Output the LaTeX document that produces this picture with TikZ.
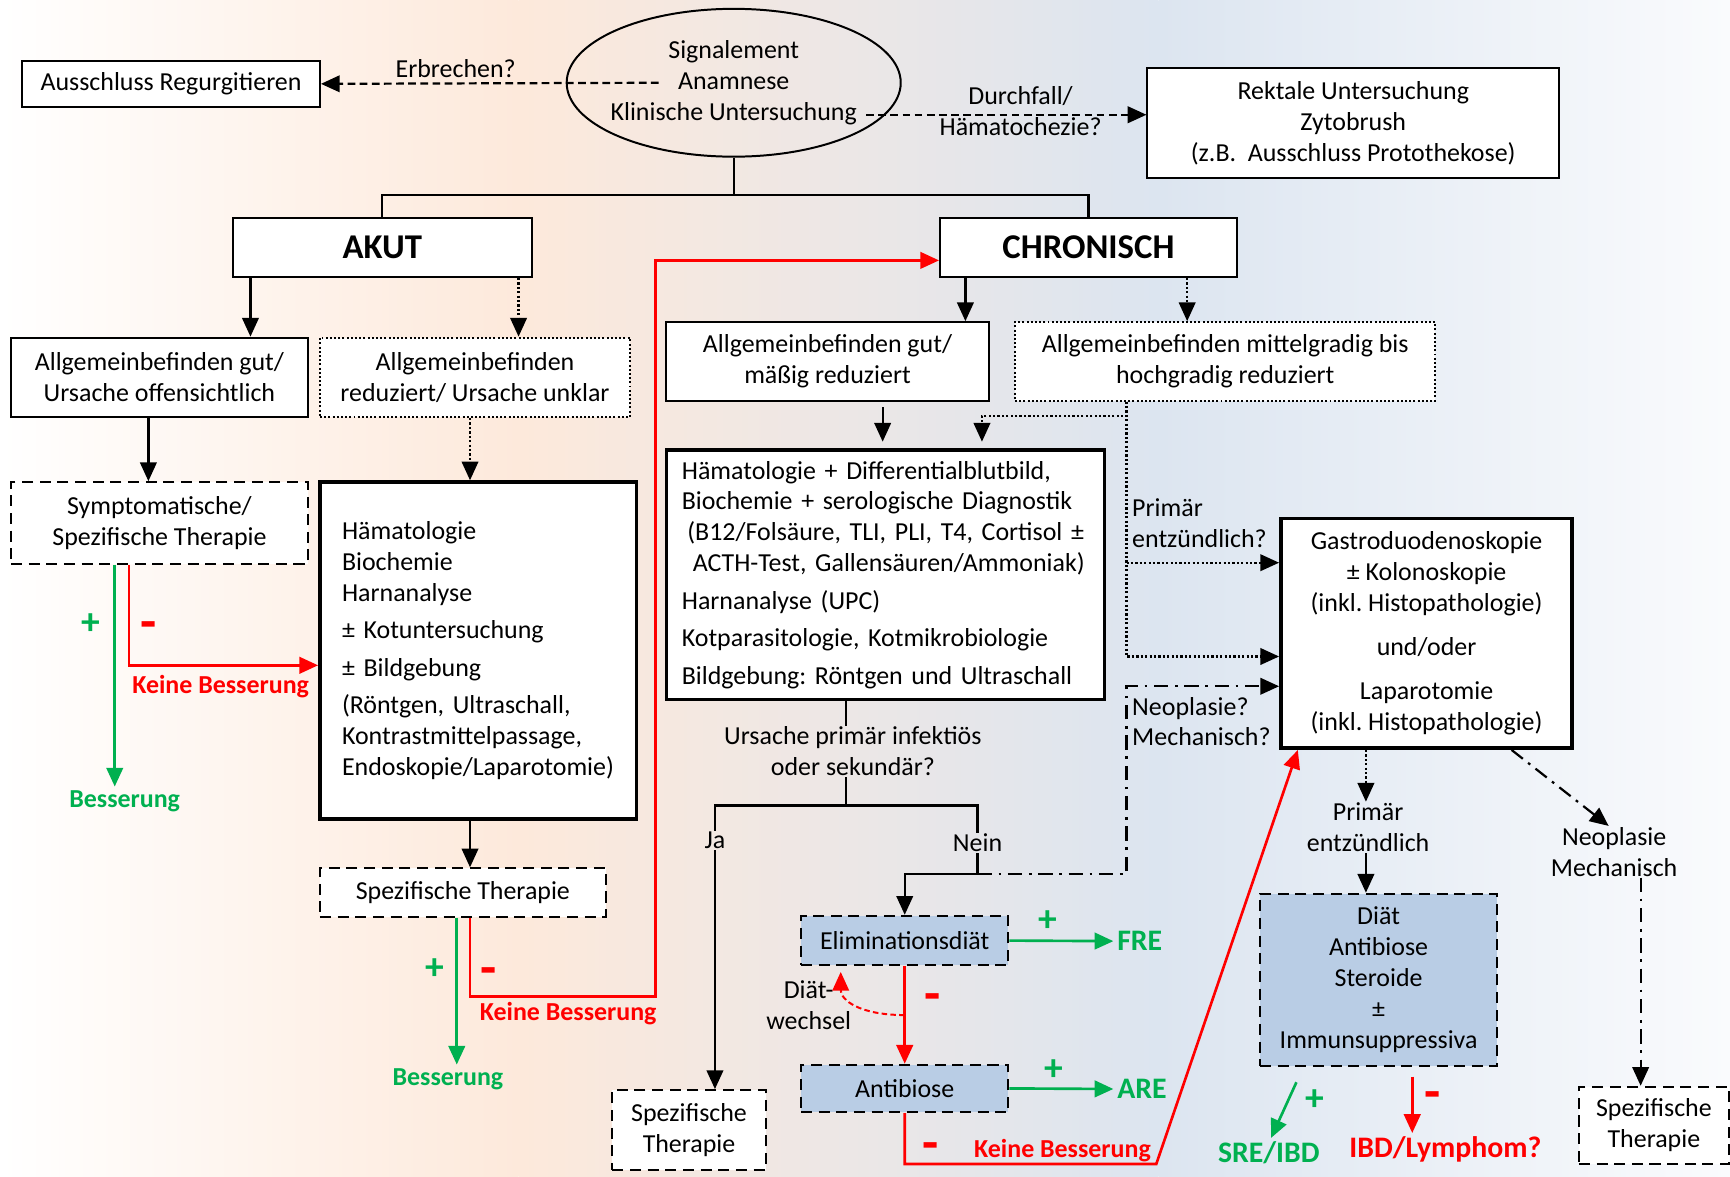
\documentclass[tikz,border=0pt]{standalone}
\usepackage{fontspec}
\setmainfont{Carlito}
\usepackage{tikz}
\usetikzlibrary{arrows.meta,positioning,shapes.geometric,calc}
\definecolor{ink}{HTML}{000000}
\definecolor{okgreen}{HTML}{00B050}
\definecolor{badred}{HTML}{FF0000}
\definecolor{blufill}{HTML}{B9CDE5}
\definecolor{peachbg}{HTML}{FDE9DB}
\definecolor{bluebg}{HTML}{DCE5F0}
\definecolor{palebg}{HTML}{FAFBFD}
\frenchspacing
\newcommand{\flowfont}{\fontsize{23.5}{28}\selectfont}
\newcommand{\headfont}{\fontsize{31.5}{34}\selectfont\bfseries}
\newcommand{\notefont}{\fontsize{23.5}{26}\selectfont\bfseries}
\newcommand{\outfont}{\fontsize{27}{30}\selectfont\bfseries}
\newcommand{\signfont}{\fontsize{34}{34}\selectfont\bfseries}
\newcommand{\barfont}{\fontsize{48}{48}\selectfont\bfseries}
\tikzset{
  flowbox/.style={draw=ink,fill=white,line width=1.8pt,
                  align=center,inner sep=0pt,font=\flowfont},
  thickbox/.style={flowbox,line width=3.4pt},
  dotbox/.style={flowbox,line width=1.8pt,dash pattern=on 1.8pt off 2pt},
  dashbox/.style={flowbox,dash pattern=on 10pt off 6pt},
  tintbox/.style={dashbox,fill=blufill},
  oval/.style={ellipse,draw=ink,line width=1.8pt,align=center,
               inner sep=0pt,inner xsep=-4.5pt,font=\flowfont},
  lbl/.style={font=\flowfont,align=center,inner sep=1pt},
  link/.style={draw=ink,line width=2pt},
  flowarr/.style={-{Triangle[length=17pt,width=15pt]},line width=2pt,draw=ink},
  dotarr/.style={flowarr,dash pattern=on 2pt off 2pt},
  dasharr/.style={flowarr,dash pattern=on 7pt off 4pt},
  dotdasharr/.style={flowarr,dash pattern=on 13pt off 6pt on 2.5pt off 6pt},
  goodarr/.style={flowarr,draw=okgreen,line width=2.4pt},
  badarr/.style={flowarr,draw=badred,line width=2.4pt},
  sign/.style={font=\signfont,inner sep=0pt},
  minusbar/.style={font=\barfont,inner sep=0pt,anchor=north}
}
\begin{document}
\begin{tikzpicture}[x=1pt,y=-1pt]
  % background wash
  \useasboundingbox (0,0) rectangle (1568,1066);
  \shade[left color=white,right color=peachbg] (0,0) rectangle (470,1066);
  \shade[left color=peachbg,right color=bluebg] (470,0) rectangle (1050,1066);
  \shade[left color=bluebg,right color=palebg] (1050,0) rectangle (1568,1066);

  % top row
  \node[oval,minimum width=294,minimum height=134] (sig) at (665,75)
    {Signalement\\Anamnese\\Klinische Untersuchung};
  \node[flowbox,minimum width=270,minimum height=42] (aus) at (155,76) {Ausschluss Regurgitieren};
  \node[flowbox,minimum width=373,minimum height=99] (rekt) at (1226.5,111.5)
    {Rektale Untersuchung\\Zytobrush\\(z.B.\ \ Ausschluss Protothekose)};
  \node[lbl] (erb) at (413,62) {Erbrechen?};
  \node[lbl] (durch) at (925,101) {Durchfall/\\Hämatochezie?};
  \draw[dasharr] ([xshift=-68]sig.center) -- (aus.east);
  \coordinate (dstart) at ([xshift=120,yshift=-29]sig.center);
  \draw[dasharr] (dstart) -- (dstart -| rekt.west);

  \node[flowbox,minimum width=271,minimum height=53,font=\headfont] (akut) at (346.5,224.5) {AKUT};
  \node[flowbox,minimum width=269,minimum height=53,font=\headfont] (chron) at (986.5,224.5) {CHRONISCH};
  \coordinate (split) at ([yshift=-34]sig.south);
  \draw[link] (sig.south) -- (split);
  \draw[link] (split) -| (akut.north);
  \draw[link] (split) -| (chron.north);

  % acute branch
  \node[flowbox,minimum width=269,minimum height=72] (a1) at (144.5,342)
    {Allgemeinbefinden gut/\\Ursache offensichtlich};
  \node[dotbox,minimum width=281,minimum height=72] (a2) at (430.5,342)
    {Allgemeinbefinden\\reduziert/ Ursache unklar};
  \node[dashbox,minimum width=269,minimum height=74] (sym) at (144.5,474)
    {Symptomatische/\\Spezifische Therapie};
  \node[thickbox,minimum height=305,text width=247,inner xsep=20,align=left] (haem) at (433.5,589.5)
    {Hämatologie\\Biochemie\\Harnanalyse\\[6pt]± Kotuntersuchung\\[6pt]± Bildgebung\\[6pt]%
     (Röntgen, Ultraschall,\\Kontrastmittelpassage,\\Endoskopie/Laparotomie)};
  \node[dashbox,minimum width=259,minimum height=44] (spz1) at (419.5,809) {Spezifische Therapie};
  \node[font=\notefont,text=okgreen] (bes1) at (113,726) {Besserung};
  \node[font=\notefont,text=badred] (kb1) at (200,622) {Keine Besserung};
  \node[font=\notefont,text=okgreen] (bes2) at (406,978) {Besserung};
  \node[font=\notefont,text=badred] (kb2) at (515,919) {Keine Besserung};

  \draw[flowarr] ([xshift=-119.5]akut.south) -- ([xshift=-119.5]akut.south |- a1.north);
  \draw[dotarr] ([xshift=123.5]akut.south) -- ([xshift=123.5]akut.south |- a2.north);
  \draw[flowarr] ([xshift=-10]a1.south) -- ([xshift=-10]sym.north);
  \draw[dotarr] ([xshift=-4.5]a2.south) -- ([xshift=-7.5]haem.north);
  \draw[goodarr] ([xshift=-40.5]sym.south) -- ([xshift=-40.5]sym.south |- bes1.north);
  \draw[badarr] ([xshift=-27.5]sym.south) |- ([yshift=-13.5]haem.west);
  \draw[flowarr] ([xshift=-7.5]haem.south) -- ([xshift=6.5]spz1.north);
  \draw[goodarr] ([xshift=-5.5]spz1.south) -- ([xshift=-5.5]spz1.south |- bes2.north);
  \coordinate (upturn) at (594,903);
  \draw[badarr] ([xshift=6.5]spz1.south) |- (upturn) |- ([yshift=-11.5]chron.west);

  % chronic branch
  \node[flowbox,minimum width=292,minimum height=71] (c1) at (750,327.5)
    {Allgemeinbefinden gut/\\mäßig reduziert};
  \node[dotbox,minimum width=381,minimum height=71] (c2) at (1110.5,327.5)
    {Allgemeinbefinden mittelgradig bis\\hochgradig reduziert};
  \node[thickbox,minimum height=226,text width=369,inner xsep=14,align=left] (lab) at (802.5,521)
    {Hämatologie + Differentialblutbild,\\Biochemie + serologische Diagnostik\\%
     \hspace*{5pt}(B12/Folsäure, TLI, PLI, T4, Cortisol ±\\%
     \hspace*{10pt}ACTH-Test, Gallensäuren/Ammoniak)\\[6pt]Harnanalyse (UPC)\\[6pt]%
     Kotparasitologie, Kotmikrobiologie\\[6pt]Bildgebung: Röntgen und Ultraschall};
  \node[lbl] (cause) at (773,681) {Ursache primär infektiös\\oder sekundär?};
  \node[lbl] (ja) at (648,762) {Ja};
  \node[lbl] (nein) at (886,764) {Nein};
  \node[dashbox,minimum width=139,minimum height=72] (spz2) at (624.5,1024) {Spezifische\\Therapie};
  \node[tintbox,minimum width=188,minimum height=45] (elim) at (820,852.5) {Eliminationsdiät};
  \node[tintbox,minimum width=188,minimum height=43] (abx) at (820,986.5) {Antibiose};
  \node[font=\outfont,text=okgreen] (fre) at (1033,853) {FRE};
  \node[font=\outfont,text=okgreen] (are) at (1035,987) {ARE};
  \node[lbl] (swap) at (733,911) {Diät-\\wechsel};
  \node[font=\notefont,text=badred] (kb3) at (963,1043) {Keine Besserung};

  \node[thickbox,minimum width=264,minimum height=208] (endo) at (1293,574)
    {Gastroduodenoskopie\\± Kolonoskopie\\(inkl. Histopathologie)\\[12pt]und/oder\\[12pt]%
     Laparotomie\\(inkl. Histopathologie)};
  \node[lbl,align=left,anchor=west] (q1) at (1025,474) {Primär\\entzündlich?};
  \node[lbl,align=left,anchor=west] (q2) at (1025,654) {Neoplasie?\\Mechanisch?};
  \node[lbl] (prim) at (1240,750) {Primär\\entzündlich};
  \node[lbl] (neo) at (1463,772) {Neoplasie\\Mechanisch};
  \node[tintbox,minimum width=215,minimum height=156] (ibdtx) at (1249.5,888)
    {Diät\\Antibiose\\Steroide\\±\\Immunsuppressiva};
  \node[dashbox,minimum width=136,minimum height=70] (spz3) at (1499,1020) {Spezifische\\Therapie};
  \node[font=\outfont,text=okgreen] (sre) at (1150,1045) {SRE/IBD};
  \node[font=\outfont,text=badred] (lym) at (1310,1042) {IBD/Lymphom?};

  \draw[flowarr] ([xshift=-111.5]chron.south) -- ([xshift=-111.5]chron.south |- c1.north);
  \draw[dotarr] ([xshift=89.5]chron.south) -- ([xshift=89.5]chron.south |- c2.north);
  \draw[flowarr] ([xshift=50,yshift=-5]c1.south) -- ([xshift=-2.5,yshift=6]lab.north);
  \coordinate (tap) at ([xshift=-89.5]c2.south);
  \draw[dotarr] (tap) -- ++(0,13) -| ([xshift=87.5,yshift=6]lab.north);
  \draw[dotarr] (tap) |- ([yshift=-21]endo.west);
  \draw[dotarr] ([yshift=64]endo.west -| tap) -- ([yshift=64]endo.west);

  % below the lab box
  \coordinate (fork) at (767,730);
  \draw[link] ([xshift=-35.5]lab.south) -- (cause.north -| fork);
  \draw[link] (cause.south -| fork) -- (fork);
  \draw[link] (fork) -| (ja.north);
  \draw[flowarr] (ja.south) -- (ja.south |- spz2.north);
  \draw[link] (fork) -| (nein.north);
  \coordinate (join) at (nein.south |- 0,792);
  \draw[flowarr] (nein.south) -- (join) -| (elim.north);
  \draw[dotdasharr] (join) -| ([yshift=-48]endo.west -| tap) -- ([yshift=-48]endo.west);

  \draw[goodarr] (elim.east) -- (fre.west);
  \draw[goodarr] (abx.east) -- (are.west);
  \draw[badarr] (elim.south) -- (abx.north);
  \coordinate (swapfrom) at ($(elim.south)!0.5!(abx.north)$);
  \coordinate (swapto) at ([xshift=-58,yshift=-5]elim.south);
  \draw[badarr,line width=1.8pt,dash pattern=on 5pt off 3pt]
    (swapfrom) .. controls ([xshift=-42]swapfrom) and ([yshift=-25]swapto) .. (swapto);
  \coordinate (kbend) at (1048,1055);
  \draw[badarr] (abx.south) |- (kbend) -- ([xshift=17]endo.south west);

  % below the endoscopy box
  \draw[dotarr] ([xshift=-55]endo.south) -- ([xshift=-55]endo.south |- prim.north);
  \draw[flowarr] ([xshift=-2]prim.south) -- ([xshift=-11.5]ibdtx.north);
  \draw[dotdasharr] ([xshift=77]endo.south) -- ([xshift=-5]neo.north);
  \draw[dotdasharr] ([xshift=24]neo.south) -- ([xshift=-12]spz3.north);
  \draw[goodarr] ([xshift=-74.5,yshift=-14]ibdtx.south) -- ([xshift=2]sre.north);
  \draw[badarr] ([xshift=30.5,yshift=-9]ibdtx.south) -- ([xshift=30.5]ibdtx.south |- lym.north);

  % plus / minus marks
  \foreach \px/\py [count=\i] in {82/566,394/878,950/835,955/970,1192/997}
    \node[sign,text=okgreen] (plus\i) at (\px,\py) {+};
  \foreach \mx/\my [count=\i] in {135/563,443/877,845/900,843/1035,1298/989}
    \node[minusbar,text=badred] (minus\i) at (\mx,\my) {-};
\end{tikzpicture}
\end{document}
